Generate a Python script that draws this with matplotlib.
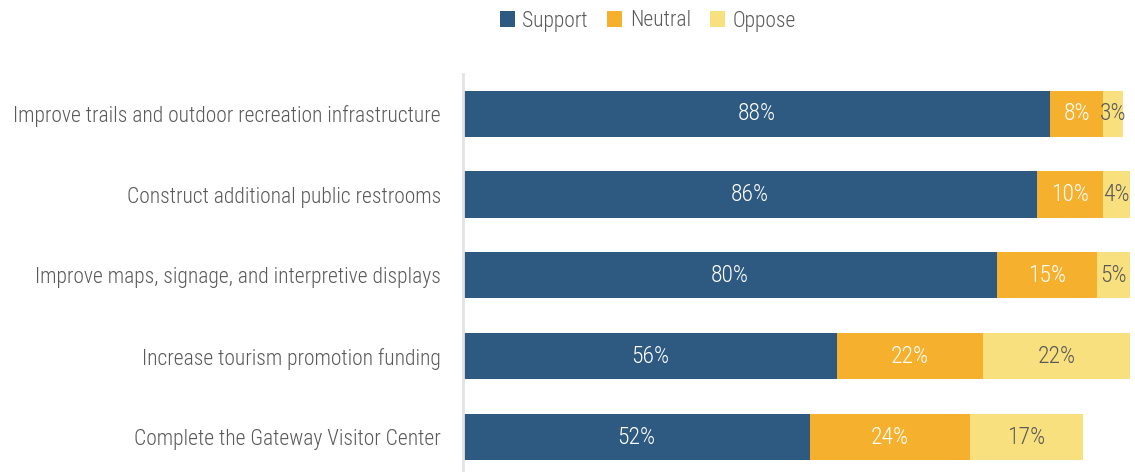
import matplotlib
matplotlib.use("Agg")
import matplotlib.pyplot as plt
from matplotlib import font_manager
from matplotlib.patches import Patch

# survey items, top to bottom
items = [
    "Improve trails and outdoor recreation infrastructure",
    "Construct additional public restrooms",
    "Improve maps, signage, and interpretive displays",
    "Increase tourism promotion funding",
    "Complete the Gateway Visitor Center",
]
support = [88, 86, 80, 56, 52]
neutral = [8, 10, 15, 22, 24]
oppose = [3, 4, 5, 22, 17]

series = ["Support", "Neutral", "Oppose"]
colors = ["#2E5A82", "#F5B02E", "#F9E07F"]
label_colors = ["white", "white", "#595959"]

# pick a narrow sans if one is installed
installed = {f.name for f in font_manager.fontManager.ttflist}
for fam in ["Roboto Condensed", "Fira Sans Condensed", "Open Sans Condensed", "PT Sans Narrow", "Archivo Narrow"]:
    if fam in installed:
        plt.rcParams["font.family"] = [fam, "DejaVu Sans"]
        break
plt.rcParams["font.weight"] = "light"

fig = plt.figure(figsize=(11.35, 4.72), dpi=100)
ax = fig.add_axes([463 / 1135, 0, 1 - 463 / 1135 - 5 / 1135, 1 - 74 / 472])

y = list(range(len(items)))
left = [0] * len(items)
for vals, col, lc in zip([support, neutral, oppose], colors, label_colors):
    bars = ax.barh(y, vals, left=left, height=0.57, color=col, edgecolor="none")
    for b, v in zip(bars, vals):
        ax.text(b.get_x() + b.get_width() / 2, b.get_y() + b.get_height() / 2, f"{v}%",
                ha="center", va="center", color=lc, fontsize=17)
    left = [l + v for l, v in zip(left, vals)]

ax.set_xlim(0, 100)
ax.set_ylim(4.43, -0.49)
ax.set_yticks(y)
ax.set_yticklabels(items, fontsize=15.5, color="#595959")
ax.tick_params(axis="y", length=0, pad=16)
ax.set_xticks([])
for s in ["top", "right", "bottom"]:
    ax.spines[s].set_visible(False)
ax.spines["left"].set_color("#E3E3E3")
ax.spines["left"].set_linewidth(2)

handles = [Patch(facecolor=c, label=s) for s, c in zip(series, colors)]
fig.legend(handles=handles, loc="center", bbox_to_anchor=(648 / 1135, 1 - 21 / 472), ncol=3,
           frameon=False, fontsize=15.5, handlelength=0.7, handleheight=0.7,
           handletextpad=0.35, columnspacing=0.9, labelcolor="#595959")

fig.savefig("out.png")
